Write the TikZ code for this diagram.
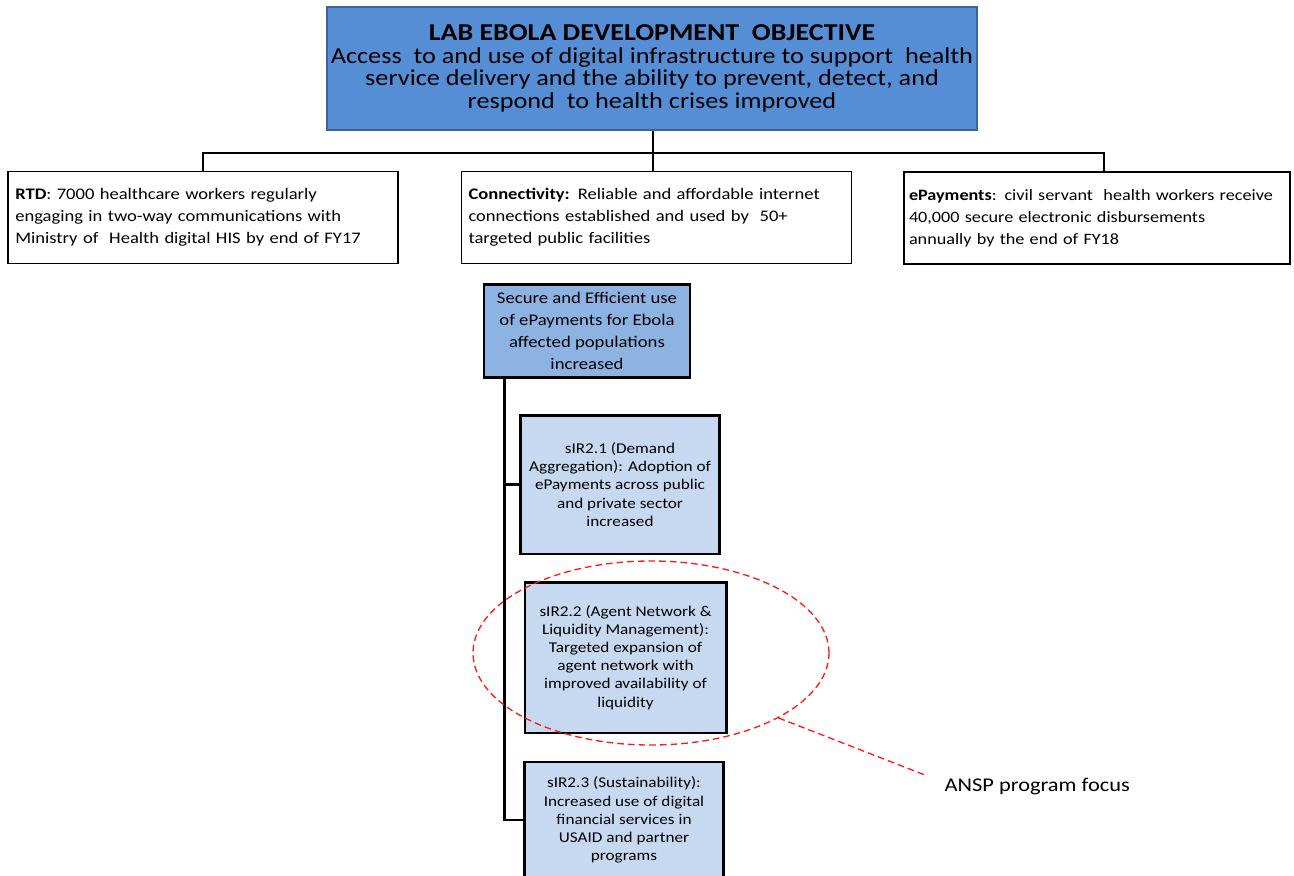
\documentclass[tikz,border=0pt]{standalone}
\usepackage{fontspec}
\setmainfont{Carlito}[FakeStretch=1.15]
\usetikzlibrary{positioning,calc,shapes.geometric}
\definecolor{objfill}{HTML}{558ED5}
\definecolor{objedge}{HTML}{3A6499}
\definecolor{goalfill}{HTML}{8DB3E2}
\definecolor{subfill}{HTML}{C6D9F1}
\definecolor{focusred}{HTML}{FF1A1A}
\tikzset{
  objbox/.style={draw=objedge, fill=objfill, line width=1.5pt, minimum width=487.5pt,
    minimum height=92pt, align=center, inner sep=0pt, font=\fontsize{17.1}{17}\selectfont},
  lvlbox/.style={draw, line width=0.9pt, inner xsep=5.5pt, minimum height=69pt, align=left,
    font=\fontsize{12.1}{16.5}\selectfont},
  goalbox/.style={draw, line width=2pt, fill=goalfill, minimum width=154.5pt,
    minimum height=70pt, align=center, inner sep=0pt, font=\fontsize{12.2}{16.3}\selectfont},
  subbox/.style={draw, line width=2pt, fill=subfill, minimum width=149pt, align=center,
    inner sep=0pt, font=\fontsize{11.2}{13.6}\selectfont},
  link/.style={line width=1.9pt},
  focusring/.style={draw=focusred, dash pattern=on 5pt off 3pt, line width=1pt,
    ellipse, minimum width=267pt, minimum height=138pt, inner sep=0pt},
  callout/.style={draw=focusred, dash pattern=on 5pt off 3pt, line width=1pt}
}
\begin{document}
\begin{tikzpicture}[x=0.75pt,y=-0.75pt]
\useasboundingbox (0,0) rectangle (1294,875);
% development objective
\node[objbox] (obj) at (652,68.5) {\textbf{\fontsize{18.2}{20}\selectfont LAB EBOLA DEVELOPMENT\ \ OBJECTIVE}\\
  Access\ \ to and use of digital infrastructure to support\ \ health\\
  service delivery and the ability to prevent, detect, and\\ respond\ \ to health crises improved};
% first level
\node[lvlbox, text width=281.5pt] (rtd) at (203,217.5) {\textbf{RTD}: 7000 healthcare workers regularly\\
  engaging in two-way communications with\\ Ministry of\ \ Health digital HIS by end of FY17};
\node[lvlbox, text width=282pt] (conn) at (656.5,217.5) {\textbf{Connectivity:} Reliable and affordable internet\\
  connections established and used by\ \ 50+\\ targeted public facilities};
\node[lvlbox, text width=282pt, inner xsep=3.75pt, font=\fontsize{11.85}{16.5}\selectfont] (epay) at (1097,218)
  {\textbf{ePayments}: civil servant\ \ health workers receive\\
  40,000 secure electronic disbursements\\ annually by the end of FY18};
% ePayments results
\node[goalbox] (goal) at (587,331) {Secure and Efficient use\\ of ePayments for Ebola\\ affected populations\\ increased};
\node[subbox, minimum height=104pt] (sir1) at (620,484.5) {sIR2.1 (Demand\\ Aggregation): Adoption of\\
  ePayments across public\\ and private sector\\ increased};
\node[subbox, minimum width=151pt, minimum height=113pt] (sir2) at (625.5,657.5) {sIR2.2 (Agent Network \&\\
  Liquidity Management):\\ Targeted expansion of\\ agent network with\\ improved availability of\\ liquidity};
\node[subbox, minimum height=87pt] (sir3) at (624,820) {sIR2.3 (Sustainability):\\ Increased use of digital\\
  financial services in\\ USAID and partner\\ programs};
% connectors
\coordinate (bus) at (653,153);
\draw[link] (obj.south -| bus) -- (bus |- conn.north);
\draw[link] (rtd.north) |- (bus) -| ($(epay.north)+(7,0)$);
\coordinate (t0) at ($(goal.south west)+(22,0)$);
\draw[link] (t0) |- (sir3.west);
\draw[link] (t0 |- sir1.west) -- (sir1.west);
% program focus
\node[focusring] (ring) at (651,653) {};
\node[anchor=west, font=\fontsize{14.6}{18}\selectfont] (focus) at (940,786) {ANSP program focus};
\coordinate (tip) at (925,775);
\draw[callout] (ring.-27) -- (tip);
\end{tikzpicture}
\end{document}
